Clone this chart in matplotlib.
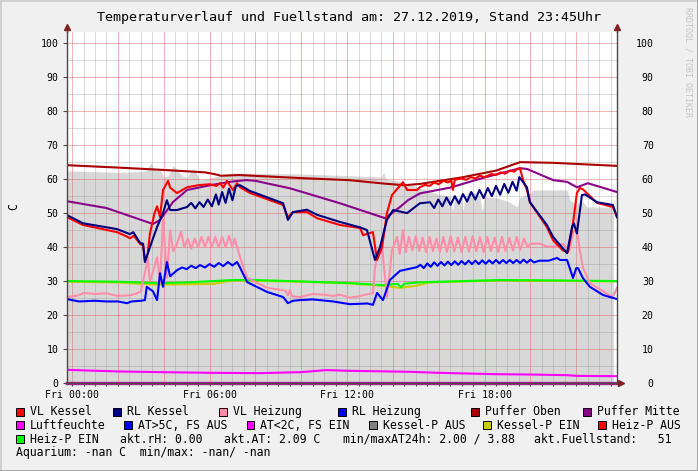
import matplotlib.pyplot as plt
import matplotlib.patches as mpatches
from matplotlib.lines import Line2D
import numpy as np

plt.rcParams['font.family'] = ['DejaVu Sans Mono']

# hours relative to Fri 00:00 (window 23:47 Thu .. 23:47 Fri)
t_start, t_end = -0.22, 23.78

# Kessel-P AUS (grey area)
area_t = [-0.22, 1.0, 2.0, 3.2, 3.45, 3.6, 3.84, 4.0, 4.2, 4.41, 4.6, 4.8, 5.02, 5.3, 5.58,
          7.0, 10.0, 12.13, 13.5, 13.6, 13.7, 14.2, 15.18, 16.0, 16.5, 16.6, 16.7, 17.0,
          17.06, 17.15, 17.36, 17.8, 17.9, 18.0, 18.11, 18.54, 19.11, 19.42, 19.55, 19.98,
          20.11, 21.6, 21.73, 22.03, 22.2, 22.47, 23.62]
area_v = [62.4, 62.2, 62.0, 62.3, 64.7, 62.5, 62.9, 60.6, 61.0, 64.0, 62.5, 61.0, 60.5, 63.2, 59.7,
          61.8, 61.5, 61.0, 60.6, 62.0, 60.0, 59.5, 57.4, 55.5, 55.0, 50.5, 55.0, 54.0,
          50.5, 55.0, 56.8, 55.0, 50.5, 55.0, 54.7, 54.5, 53.2, 51.8, 54.7, 55.9,
          56.8, 56.8, 53.8, 52.4, 54.0, 51.8, 51.8]

# Puffer Oben
po_t = [-0.22, 2.0, 4.0, 5.8, 6.2, 6.5, 7.3, 10.0, 12.1, 13.6, 14.5, 15.2, 17.0, 18.5, 19.55, 21.0, 23.78]
po_v = [64.1, 63.4, 62.7, 62.0, 61.5, 61.0, 61.2, 60.3, 59.7, 58.7, 58.2, 58.6, 60.5, 62.5, 65.0, 64.8, 63.9]

# Puffer Mitte
pm_t = [-0.22, 1.5, 3.53, 3.84, 4.41, 5.02, 6.02, 7.0, 7.6, 8.0, 9.51, 11.69, 13.66, 14.31, 14.66,
        15.18, 16.5, 18.0, 19.55, 19.85, 21.0, 21.6, 22.03, 22.51, 23.78]
pm_v = [53.5, 51.5, 46.8, 48.0, 53.3, 56.8, 58.2, 59.3, 59.7, 59.5, 57.3, 52.9, 48.5, 51.8, 53.8,
        55.8, 57.5, 60.5, 63.2, 63.0, 59.7, 59.2, 57.6, 58.8, 56.2]

# VL Kessel
vk_t = [-0.22, 0.48, 1.96, 2.3, 2.53, 2.7, 2.97, 3.1, 3.18, 3.3, 3.40, 3.6, 3.71, 3.84, 3.97, 4.19,
        4.28, 4.41, 4.58, 5.02, 5.5, 6.0, 6.3, 6.46, 6.6, 6.76, 7.02, 7.2, 7.33, 7.77, 9.21, 9.42,
        9.64, 10.25, 10.69, 11.69, 12.57, 12.70, 13.13, 13.31, 13.53, 13.74, 13.96, 14.44, 14.62,
        15.05, 15.18, 15.4, 15.6, 15.8, 16.0, 16.2, 16.4, 16.55, 16.62, 16.7, 17.0, 17.2, 17.4,
        17.6, 17.8, 18.0, 18.3, 18.5, 18.7, 18.9, 19.1, 19.3, 19.42, 19.55, 19.68, 19.85, 19.98,
        20.72, 20.99, 21.42, 21.64, 21.86, 22.03, 22.16, 22.29, 22.91, 23.60, 23.78]
vk_v = [48.8, 46.5, 44.4, 43.4, 42.6, 43.3, 40.9, 40.5, 36.0, 38.0, 44.0, 50.0, 52.0, 48.8, 56.8, 59.5,
        57.5, 56.8, 55.9, 57.6, 58.2, 58.5, 58.0, 58.8, 57.5, 59.5, 56.8, 58.8, 57.6, 55.9, 52.4, 48.8,
        50.3, 50.3, 48.5, 46.5, 45.6, 43.5, 44.4, 36.2, 40.0, 50.0, 55.3, 59.1, 56.8,
        56.8, 57.6, 58.3, 58.0, 59.0, 58.5, 59.5, 59.0, 59.6, 56.8, 59.8, 60.2, 59.8, 60.6,
        60.2, 61.0, 60.6, 61.5, 61.2, 62.0, 61.6, 62.5, 62.2, 63.0, 63.2, 59.7, 56.8, 53.2,
        45.9, 42.0, 39.0, 38.5, 47.0, 55.9, 57.4, 57.0, 53.0, 51.8, 48.8]

# RL Kessel
rk_t = [-0.22, 0.48, 1.96, 2.53, 2.67, 2.97, 3.1, 3.18, 3.4, 3.71, 3.97, 4.14, 4.28, 4.58, 5.02,
        5.20, 5.38, 5.56, 5.74, 5.92, 6.10, 6.28, 6.40, 6.55, 6.70, 6.85, 7.00, 7.15, 7.33, 7.77,
        9.21, 9.42, 9.64, 10.25, 10.69, 11.69, 12.57, 12.87, 13.22, 13.44, 13.74, 14.01, 14.62,
        15.18, 15.62, 15.80, 15.98, 16.16, 16.34, 16.52, 16.70, 16.88, 17.06, 17.24, 17.42, 17.60,
        17.78, 17.96, 18.14, 18.32, 18.50, 18.68, 18.86, 19.04, 19.22, 19.40, 19.52, 19.85, 19.98,
        20.72, 20.99, 21.60, 21.82, 21.90, 22.03, 22.25, 22.38, 22.91, 23.60, 23.78]
rk_v = [49.4, 47.0, 45.3, 43.8, 44.4, 41.2, 41.0, 35.6, 40.0, 45.9, 50.0, 53.8, 50.9, 50.9, 51.8,
        53.0, 51.4, 53.2, 51.8, 54.0, 52.0, 55.5, 52.5, 56.2, 53.0, 57.2, 53.8, 58.0, 58.2, 56.5,
        52.9, 48.0, 50.3, 51.0, 49.5, 47.4, 45.8, 45.0, 36.2, 40.0, 48.0, 50.9, 50.0,
        52.9, 53.2, 51.5, 54.0, 52.0, 54.6, 52.4, 55.0, 52.8, 55.6, 53.4, 56.2, 54.0,
        56.8, 54.4, 57.4, 55.0, 58.0, 55.4, 58.6, 56.0, 59.2, 56.6, 60.6, 57.6, 53.2,
        46.5, 43.0, 38.2, 45.9, 47.0, 44.0, 55.3, 55.5, 53.2, 52.4, 48.8]

# VL Heizung
vh_t = [-0.22, 0.3, 0.5, 1.0, 1.5, 2.0, 2.5, 2.8, 3.0, 3.2, 3.3, 3.4, 3.55, 3.71, 3.84, 3.97, 4.14,
        4.28, 4.41, 4.58, 4.75, 4.9, 5.05, 5.2, 5.35, 5.5, 5.65, 5.8, 5.95, 6.1, 6.25, 6.4, 6.55,
        6.7, 6.85, 7.0, 7.1, 7.2, 7.33, 7.64, 8.51, 9.3, 9.42, 9.51, 9.6, 9.95, 10.5, 11.0, 11.4,
        11.69, 12.13, 12.5, 13.0, 13.13, 13.22, 13.35, 13.53, 13.74, 13.96, 14.18, 14.3,
        14.44, 14.56, 14.70, 14.85, 15.00, 15.15, 15.30, 15.45, 15.60, 15.75, 15.90, 16.05, 16.20,
        16.36, 16.52, 16.68, 16.84, 17.00, 17.16, 17.32, 17.48, 17.64, 17.80, 17.96, 18.12, 18.28,
        18.44, 18.60, 18.76, 18.92, 19.08, 19.24, 19.40, 19.56, 19.72, 19.88, 20.0, 20.42, 20.7,
        20.99, 21.2, 21.42, 21.7, 21.86, 22.03, 22.16, 22.29, 22.60, 23.17, 23.60, 23.78]
vh_v = [25.3, 25.8, 26.5, 26.2, 26.4, 25.6, 25.8, 26.3, 27.0, 33.0, 37.0, 30.0, 33.0, 37.0, 29.4, 48.0, 31.0,
        45.0, 38.8, 41.0, 44.5, 40.0, 42.5, 39.5, 42.5, 40.0, 43.0, 40.0, 43.0, 40.0, 43.0, 40.0, 43.0,
        40.0, 43.3, 40.0, 42.5, 40.0, 37.0, 31.0, 28.0, 27.2, 25.8, 27.4, 25.5, 25.3, 26.2, 26.0, 25.6,
        26.0, 25.1, 25.5, 26.3, 26.5, 34.0, 38.0, 40.0, 25.3, 39.0, 43.0, 38.0,
        45.0, 38.5, 43.0, 39.0, 43.2, 38.8, 42.8, 38.5, 43.0, 38.8, 42.5, 38.5, 43.0,
        38.6, 43.2, 38.8, 42.8, 38.5, 43.0, 38.6, 43.2, 38.8, 43.0, 38.5, 43.0, 38.8,
        42.8, 38.6, 43.0, 38.8, 42.8, 39.0, 43.0, 39.2, 42.5, 40.0, 41.0, 41.0, 40.2,
        40.0, 40.6, 40.9, 39.0, 44.4, 45.3, 39.0, 34.0, 29.4, 27.0, 25.3, 28.0]

# RL Heizung
rh_t = [-0.22, 0.3, 1.0, 1.5, 2.0, 2.4, 2.6, 3.0, 3.18, 3.26, 3.53, 3.71, 3.84, 3.97, 4.14, 4.28,
        4.58, 4.8, 5.0, 5.2, 5.4, 5.58, 5.8, 6.0, 6.2, 6.4, 6.6, 6.8, 7.0, 7.2, 7.33, 7.64, 8.51,
        9.21, 9.42, 9.64, 9.95, 10.5, 11.39, 12.13, 12.9, 13.13, 13.31, 13.57, 13.87, 14.31,
        15.05, 15.2, 15.35, 15.5, 15.65, 15.8, 15.95, 16.1, 16.25, 16.4, 16.55, 16.7, 16.85, 17.0,
        17.15, 17.3, 17.45, 17.6, 17.75, 17.9, 18.05, 18.2, 18.35, 18.5, 18.65, 18.8, 18.95, 19.1,
        19.25, 19.4, 19.55, 19.7, 19.85, 20.0, 20.15, 20.4, 20.8, 21.16, 21.3, 21.6, 21.86, 22.0,
        22.08, 22.29, 22.60, 23.17, 23.78]
rh_v = [24.7, 24.0, 24.2, 24.0, 24.0, 23.5, 24.0, 24.2, 24.4, 28.3, 27.0, 24.4, 32.3, 28.3, 35.6, 31.4,
        33.2, 34.0, 33.5, 34.5, 33.8, 34.7, 34.0, 35.0, 34.2, 35.3, 34.4, 35.6, 34.6, 35.6, 34.0, 29.7, 26.8,
        25.3, 23.5, 24.2, 24.4, 24.6, 24.0, 23.2, 23.4, 23.0, 26.5, 24.4, 30.3, 33.0,
        34.1, 34.8, 33.8, 35.2, 34.2, 35.5, 34.5, 35.6, 34.6, 35.7, 34.7, 35.8, 34.8, 35.9,
        34.9, 36.0, 35.0, 36.0, 35.0, 36.1, 35.1, 36.1, 35.2, 36.2, 35.2, 36.2, 35.3, 36.2,
        35.3, 36.2, 35.3, 36.3, 35.4, 36.3, 35.5, 36.0, 36.0, 36.8, 36.2, 36.2, 30.9, 33.8,
        33.8, 30.9, 28.3, 25.9, 24.7]

# Kessel-P EIN (yellow) and Heiz-P EIN (green)
ke_t = [-0.22, 2.0, 3.5, 4.5, 6.2, 7.0, 10.0, 12.13, 13.57, 14.31, 15.0, 15.6, 18.67, 23.78]
ke_v = [29.8, 29.6, 29.0, 29.0, 29.2, 30.2, 29.8, 29.3, 28.6, 28.0, 28.6, 29.6, 30.2, 29.9]
hp_t = [-0.22, 2.0, 3.84, 5.0, 7.02, 8.0, 10.0, 12.13, 13.57, 13.9, 14.2, 14.35, 14.5, 15.05, 16.0, 18.67, 21.0, 23.78]
hp_v = [30.0, 29.8, 29.4, 29.6, 30.3, 30.3, 29.9, 29.4, 28.8, 29.0, 29.2, 28.2, 29.2, 29.6, 29.8, 30.3, 30.2, 30.0]

# Aussentemperatur and Luftfeuchte
at_t = [-0.22, 1.0, 2.0, 3.84, 6.0, 8.2, 10.0, 11.1, 12.0, 14.7, 16.0, 18.4, 20.0, 21.6, 22.0, 23.78]
at_v = [3.88, 3.6, 3.4, 3.2, 3.0, 2.9, 3.2, 3.8, 3.6, 3.3, 3.0, 2.6, 2.5, 2.3, 2.1, 2.0]
rh_air_t = [-0.22, 23.78]
rh_air_v = [0.0, 0.0]

x_labels = ['Fri 00:00', 'Fri 06:00', 'Fri 12:00', 'Fri 18:00']

W, H = 698, 471
fig = plt.figure(figsize=(W / 100, H / 100), dpi=100, facecolor='#F0F0F0')
ax = fig.add_axes([67 / W, (H - 383) / H, 550 / W, 351 / H])
ax.set_facecolor('white')
ax.set_xlim(t_start, t_end)
ax.set_ylim(0, 103.3)

ax.fill_between(area_t, area_v, 0, color='#D8D8D8', lw=0, zorder=1)

lw = 1.5
ax.plot(ke_t, ke_v, color='#CCCC00', lw=lw, zorder=3)
ax.plot(hp_t, hp_v, color='#00FF00', lw=lw, zorder=3)
ax.plot(at_t, at_v, color='#FF00FF', lw=lw, zorder=3)
ax.plot(rh_air_t, rh_air_v, color='#A0207A', lw=2.4, zorder=3, clip_on=False)
ax.plot(rh_air_t, rh_air_v, color='#FF00FF', lw=1.0, zorder=3, clip_on=False)
ax.plot(po_t, po_v, color='#AA0000', lw=lw, zorder=3)
ax.plot(pm_t, pm_v, color='#8B008B', lw=lw, zorder=3)
ax.plot(vh_t, vh_v, color='#FF8CA8', lw=lw, zorder=3)
ax.plot(rh_t, rh_v, color='#0000FF', lw=lw, zorder=3)
ax.plot(vk_t, vk_v, color='#FF0000', lw=lw, zorder=3)
ax.plot(rk_t, rk_v, color='#000080', lw=lw, zorder=3)

# grid like rrdtool: minor every 30 min / 5 C, major every 2 h / 10 C
ax.set_xticks(np.arange(0, 24, 2))
ax.set_xticklabels([x_labels[i // 3] if i % 3 == 0 else '' for i in range(12)])
ax.set_xticks(np.arange(0, 24, 0.5), minor=True)
ax.set_yticks(np.arange(0, 101, 10))
ax.set_yticks(np.arange(5, 100, 10), minor=True)
ax.set_axisbelow(False)
ax.grid(which='major', color='#DE5050', alpha=0.42, lw=0.72)
ax.grid(which='minor', color='#8F8F8F', alpha=0.32, lw=0.72)

ax.spines['top'].set_visible(False)
for s in ['left', 'right', 'bottom']:
    ax.spines[s].set_color('#4A4A4A')
    ax.spines[s].set_linewidth(1.0)
    ax.spines[s].set_zorder(4)

ax.tick_params(axis='y', which='major', length=3, width=0.8, color='#4A4A4A', pad=3, labelsize=7.1)
ax.tick_params(axis='y', which='minor', length=0)
ax.tick_params(axis='x', which='major', length=2, width=0.8, color='#4A4A4A', pad=3, labelsize=7.1)
ax.tick_params(axis='x', which='minor', length=2, width=0.8, color='#4A4A4A')

ax2 = ax.twinx()
ax2.set_ylim(ax.get_ylim())
ax2.set_yticks(np.arange(0, 101, 10))
ax2.tick_params(axis='y', length=0, pad=26.5, labelsize=7.1)
for lab in ax2.get_yticklabels():
    lab.set_horizontalalignment('right')
for s in ax2.spines.values():
    s.set_visible(False)

# axis arrows
arrow_c = '#802020'
ax.plot([0, 0], [1.0, 1.012], transform=ax.transAxes, color='#4A4A4A', lw=1.0, clip_on=False, zorder=4)
ax.plot([1, 1], [1.0, 1.012], transform=ax.transAxes, color='#4A4A4A', lw=1.0, clip_on=False, zorder=4)
ax.plot([0, 1], [1.015, 1.015], transform=ax.transAxes, ls='none', marker='^', ms=4.5,
        color=arrow_c, clip_on=False, zorder=5)
ax.plot([1.0, 1.006], [0, 0], transform=ax.transAxes, color='#4A4A4A', lw=1.0, clip_on=False, zorder=4)
ax.plot([1.008], [0], transform=ax.transAxes, ls='none', marker='>', ms=4.5,
        color=arrow_c, clip_on=False, zorder=5)

fig.text(349 / W, 1 - 17 / H, 'Temperaturverlauf und Fuellstand am: 27.12.2019, Stand 23:45Uhr',
         ha='center', va='center', fontsize=9.6)
fig.text(14 / W, 1 - 207 / H, 'C', rotation=90, ha='center', va='center', fontsize=8.3)
fig.text(688 / W, 1 - 62 / H, 'RRDTOOL / TOBI OETIKER', rotation=-90, ha='center', va='center',
         fontsize=6, color='#C4C4C4')

# legend
legend_rows = [
    (411.5, [(16, 'VL Kessel', '#FF0000'), (113, 'RL Kessel', '#000080'), (219, 'VL Heizung', '#FF8CA8'),
             (338, 'RL Heizung', '#0000FF'), (471, 'Puffer Oben', '#AA0000'), (583, 'Puffer Mitte', '#8B008B')]),
    (425.3, [(16, 'Luftfeuchte', '#FF00FF'), (124, 'AT>5C, FS AUS', '#0000FF'), (246.5, 'AT<2C, FS EIN', '#FF00FF'),
             (369, 'Kessel-P AUS', '#808080'), (483, 'Kessel-P EIN', '#CCCC00'), (598, 'Heiz-P AUS', '#FF0000')]),
    (439.3, [(16, 'Heiz-P EIN', '#00FF00')]),
]
for y, items in legend_rows:
    for x, label, col in items:
        fig.patches.append(mpatches.Rectangle((x / W, 1 - (y + 4) / H), 8 / W, 8 / H,
                                              transform=fig.transFigure, facecolor=col,
                                              edgecolor='black', lw=0.7))
        fig.text((x + 14) / W, 1 - y / H, label, ha='left', va='center', fontsize=8.3)

info = [(120, 'akt.rH: 0.00'), (224, 'akt.AT: 2.09 C'), (343, 'min/maxAT24h: 2.00 / 3.88'),
        (534, 'akt.Fuellstand:   51')]
for x, s in info:
    fig.text(x / W, 1 - 439.3 / H, s, ha='left', va='center', fontsize=8.3)
fig.text(16 / W, 1 - 452.7 / H, 'Aquarium: -nan C  min/max: -nan/ -nan', ha='left', va='center', fontsize=8.3)

# shaded frame
fig.add_artist(Line2D([0, 1], [1, 1], transform=fig.transFigure, color='#CFCFCF', lw=2))
fig.add_artist(Line2D([0, 0], [0, 1], transform=fig.transFigure, color='#CFCFCF', lw=2))
fig.add_artist(Line2D([0, 1], [0, 0], transform=fig.transFigure, color='#9E9E9E', lw=2))
fig.add_artist(Line2D([1, 1], [0, 1], transform=fig.transFigure, color='#9E9E9E', lw=2))

fig.savefig('out.png', dpi=100, facecolor=fig.get_facecolor())
